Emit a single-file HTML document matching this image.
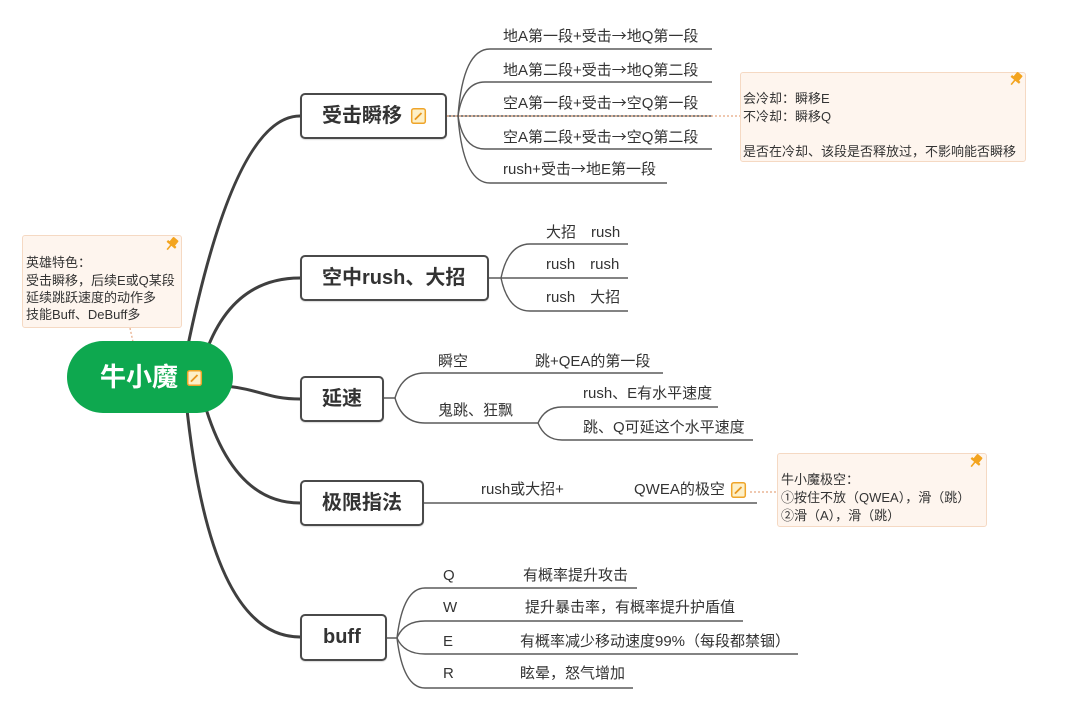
<!DOCTYPE html>
<html><head><meta charset="utf-8">
<style>
body{margin:0;width:1080px;height:712px;background:#fff;position:relative;overflow:hidden;font-family:"Liberation Sans","Noto Sans CJK SC",sans-serif;color:#333;}
.t{position:absolute;font-size:15px;line-height:20px;white-space:nowrap;color:#333;}
.ar{font-family:"Noto Sans CJK SC",sans-serif;display:inline-block;width:15px;text-align:center;}
.box{position:absolute;border:2px solid #4a4a4a;border-radius:5px;background:#fff;box-sizing:border-box;box-shadow:0 1px 1px rgba(0,0,0,0.15);}
.bt{position:absolute;font-size:20px;font-weight:bold;line-height:26px;white-space:nowrap;color:#333;}
.note{position:absolute;background:#fef5ee;border:1px solid #f5d9c3;border-radius:3px;box-sizing:border-box;}
.n{position:absolute;font-size:13px;line-height:18px;white-space:nowrap;color:#333;}
svg{position:absolute;left:0;top:0;}
.pill{position:absolute;left:67px;top:341px;width:166px;height:72px;border-radius:36px;background:#0ea84f;}
.pt{position:absolute;left:100px;top:361px;font-size:26px;font-weight:bold;line-height:32px;color:#fff;white-space:nowrap;}
</style></head><body>
<svg width="1080" height="712">
  <g fill="none" stroke="#3f3f3f" stroke-width="3" stroke-linecap="round">
    <path d="M187,350 Q235,116 300,116"/>
    <path d="M206,352 Q233,278 300,278"/>
    <path d="M226,386 C262,390 268,399 300,399"/>
    <path d="M204,402 Q233,503 300,503"/>
    <path d="M186,400 Q210,637 300,637"/>
  </g>
  <g fill="none" stroke="#5a5a5a" stroke-width="1.4">
    <path d="M447,116 H712"/>
    <path d="M458,116 Q463,49 490,49 H712"/>
    <path d="M458,116 Q463,82 485,82 H712"/>
    <path d="M458,116 Q463,149 485,149 H712"/>
    <path d="M458,116 Q463,183 490,183 H667"/>

    <path d="M489,278 H628"/>
    <path d="M501,278 Q508,244 530,244 H628"/>
    <path d="M501,278 Q508,311 530,311 H628"/>

    <path d="M384,398 H395 Q402,373 425,373 H663"/>
    <path d="M395,398 Q402,423 425,423 H538 Q545,407 562,407 H718"/>
    <path d="M538,423 Q545,440 562,440 H753"/>

    <path d="M424,503 H757"/>

    <path d="M387,638 H397 Q403,588 425,588 H637"/>
    <path d="M397,638 Q404,621 425,621 H743"/>
    <path d="M397,638 Q404,654 425,654 H798"/>
    <path d="M397,638 Q403,688 425,688 H633"/>
  </g>
  <g fill="none" stroke="#eab595" stroke-width="1.4" stroke-dasharray="2,2">
    <path d="M447,116 H740"/>
    <path d="M130,328 L133,342"/>
    <path d="M750,492 H777"/>
  </g>
</svg>

<!-- notes -->
<div class="note" style="left:22px;top:235px;width:160px;height:93px;"></div>
<div class="note" style="left:740px;top:72px;width:286px;height:90px;"></div>
<div class="note" style="left:777px;top:453px;width:210px;height:74px;"></div>

<div class="n" style="left:26px;top:254px;">英雄特色：</div>
<div class="n" style="left:26px;top:272px;">受击瞬移，后续E或Q某段</div>
<div class="n" style="left:26px;top:289px;">延续跳跃速度的动作多</div>
<div class="n" style="left:26px;top:306px;">技能Buff、DeBuff多</div>

<div class="n" style="left:743px;top:90px;">会冷却：瞬移E</div>
<div class="n" style="left:743px;top:108px;">不冷却：瞬移Q</div>
<div class="n" style="left:743px;top:143px;">是否在冷却、该段是否释放过，不影响能否瞬移</div>

<div class="n" style="left:781px;top:471px;">牛小魔极空：</div>
<div class="n" style="left:781px;top:489px;">①按住不放（QWEA），滑（跳）</div>
<div class="n" style="left:781px;top:507px;">②滑（A），滑（跳）</div>

<!-- central pill -->
<div class="pill"></div>
<div class="pt">牛小魔</div>

<!-- branch boxes -->
<div class="box" style="left:300px;top:93px;width:147px;height:46px;"></div>
<div class="bt" style="left:322px;top:103px;">受击瞬移</div>
<div class="box" style="left:300px;top:255px;width:189px;height:46px;"></div>
<div class="bt" style="left:322px;top:265px;">空中rush、大招</div>
<div class="box" style="left:300px;top:376px;width:84px;height:46px;"></div>
<div class="bt" style="left:322px;top:386px;">延速</div>
<div class="box" style="left:300px;top:480px;width:124px;height:46px;"></div>
<div class="bt" style="left:322px;top:490px;">极限指法</div>
<div class="box" style="left:300px;top:614px;width:87px;height:47px;"></div>
<div class="bt" style="left:323px;top:624px;">buff</div>

<!-- branch 1 -->
<div class="t" style="left:503px;top:26px;">地A第一段+受击<span class="ar">→</span>地Q第一段</div>
<div class="t" style="left:503px;top:60px;">地A第二段+受击<span class="ar">→</span>地Q第二段</div>
<div class="t" style="left:503px;top:93px;">空A第一段+受击<span class="ar">→</span>空Q第一段</div>
<div class="t" style="left:503px;top:127px;">空A第二段+受击<span class="ar">→</span>空Q第二段</div>
<div class="t" style="left:503px;top:159px;">rush+受击<span class="ar">→</span>地E第一段</div>

<!-- branch 2 -->
<div class="t" style="left:546px;top:223px;">大招　rush</div>
<div class="t" style="left:546px;top:255px;">rush　rush</div>
<div class="t" style="left:546px;top:288px;">rush　大招</div>

<!-- branch 3 -->
<div class="t" style="left:438px;top:352px;">瞬空</div>
<div class="t" style="left:535px;top:352px;">跳+QEA的第一段</div>
<div class="t" style="left:438px;top:401px;">鬼跳、狂飘</div>
<div class="t" style="left:583px;top:384px;">rush、E有水平速度</div>
<div class="t" style="left:583px;top:418px;">跳、Q可延这个水平速度</div>

<!-- branch 4 -->
<div class="t" style="left:481px;top:480px;">rush或大招+</div>
<div class="t" style="left:634px;top:480px;">QWEA的极空</div>

<!-- branch 5 -->
<div class="t" style="left:443px;top:566px;">Q</div>
<div class="t" style="left:523px;top:566px;">有概率提升攻击</div>
<div class="t" style="left:443px;top:598px;">W</div>
<div class="t" style="left:525px;top:598px;">提升暴击率，有概率提升护盾值</div>
<div class="t" style="left:443px;top:632px;">E</div>
<div class="t" style="left:520px;top:632px;">有概率减少移动速度99%（每段都禁锢）</div>
<div class="t" style="left:443px;top:664px;">R</div>
<div class="t" style="left:520px;top:664px;">眩晕，怒气增加</div>

<!-- icons -->
<svg width="1080" height="712">
  <defs>
    <g id="edit">
      <rect x="0.7" y="0.7" width="13.6" height="14.6" rx="2" fill="#fdf0c8" stroke="#efa52a" stroke-width="1.5"/>
      <path d="M4,11.5 L10.5,5" stroke="#e8961e" stroke-width="1.8" fill="none"/>
      <path d="M3.5,12 L4.5,10.2 L5.6,11.2 Z" fill="#e8961e"/>
    </g>
    <g id="pin">
      <g transform="rotate(40)" fill="#f3a41f">
        <rect x="-3.5" y="-8" width="7" height="7" rx="1"/>
        <rect x="-5.5" y="-2" width="11" height="2.4" rx="0.5"/>
        <rect x="-0.8" y="0" width="1.6" height="6"/>
      </g>
    </g>
  </defs>
  <use href="#edit" x="411" y="108"/>
  <use href="#edit" x="187" y="370"/>
  <use href="#edit" x="731" y="482"/>
  <use href="#pin" x="171" y="245"/>
  <use href="#pin" x="1015" y="80"/>
  <use href="#pin" x="975" y="462"/>
</svg>
</body></html>
